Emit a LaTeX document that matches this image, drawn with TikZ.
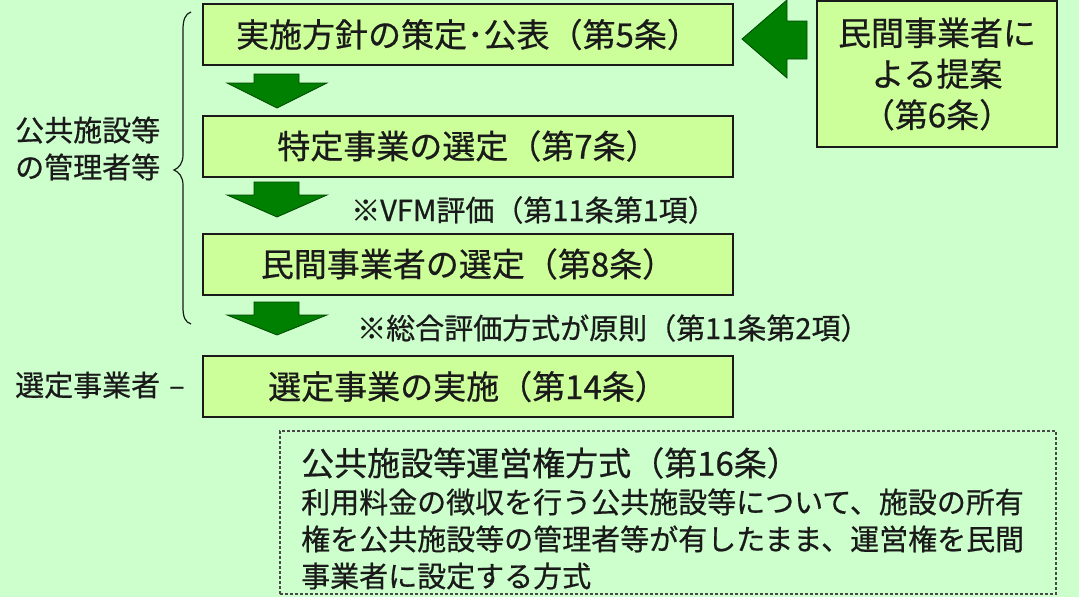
\documentclass[tikz,border=0pt]{standalone}
\usepackage{fontspec}
\setmainfont{Noto Sans CJK JP}[FakeBold=0.6]
\definecolor{bggreen}{HTML}{CCFFCC}
\definecolor{boxfill}{HTML}{CCFF99}
\definecolor{arrowgreen}{HTML}{008000}
\definecolor{inkgray}{HTML}{1A1A1A}
\begin{document}
\begin{tikzpicture}[x=1pt,y=-1pt,
        every node/.style={text=inkgray,inner sep=0pt},
        stage/.style={draw=inkgray,line width=2pt,fill=boxfill,minimum width=530pt,minimum height=61pt,font=\fontsize{33}{40}\selectfont},
        side/.style={anchor=west,align=left,font=\fontsize{29}{37}\selectfont},
        remark/.style={anchor=west,font=\fontsize{29}{35}\selectfont},
        blockarrow/.style={fill=arrowgreen,draw=arrowgreen!55!black,line width=0.8pt}]
    \fill[bggreen] (0,0) rectangle (1079,597);
    \useasboundingbox (0,0) rectangle (1079,597);

    \node[stage] (s1) at (468,34.5) {実施方針の策定･公表（第5条）};
    \node[stage] (s2) at (468,146) {特定事業の選定（第7条）};
    \node[stage] (s3) at (468,264) {民間事業者の選定（第8条）};
    \node[stage] (s4) at (468,386.5) {選定事業の実施（第14条）};

    \node[stage,minimum width=240pt,minimum height=146pt,align=center,font=\fontsize{33}{41}\selectfont]
        (prop) at (937,74) {民間事業者に\\よる提案\\（第6条）};

    % down arrows between the stages
    \foreach \t/\b/\e in {74/83/108, 182/195/217, 302/315/335}
        \draw[blockarrow] (254,\t) -- (299,\t) -- (299,\b) -- (327,\b) -- (277,\e)
            -- (227,\b) -- (254,\b) -- cycle;
    \draw[blockarrow] (807,21) -- (787,21) -- (787,0) -- (742,39) -- (787,78) -- (787,59) -- (807,59) -- cycle;

    \node[remark] (vfm) at (351,210) {※VFM評価（第11条第1項）};
    \node[remark] (eval) at (357,328) {※総合評価方式が原則（第11条第2項）};

    \draw[inkgray,line width=1.2pt] (191,12) .. controls (185,14) and (183,20) .. (183,30) -- (183,155)
        .. controls (183,163) and (179,168) .. (174,170) .. controls (179,172) and (183,177) .. (183,185)
        -- (183,307) .. controls (183,317) and (185,322) .. (191,324);
    \node[side] (mgr) at (15,148.5) {公共施設等\\の管理者等};
    \node[side] (op) at (15,385) {選定事業者\hspace{9pt}–};

    \node[draw=inkgray!80,dashed,dash pattern=on 3pt off 2pt,line width=1.2pt,minimum width=776pt,minimum height=163pt]
        (concession) at (668,512.5) {};
    \node[anchor=west,font=\fontsize{33}{40}\selectfont] (ttl) at (301,463) {公共施設等運営権方式（第16条）};
    \node[side] (desc) at (301,539) {利用料金の徴収を行う公共施設等について、施設の所有\\権を公共施設等の管理者等が有したまま、運営権を民間\\事業者に設定する方式};
\end{tikzpicture}
\end{document}
